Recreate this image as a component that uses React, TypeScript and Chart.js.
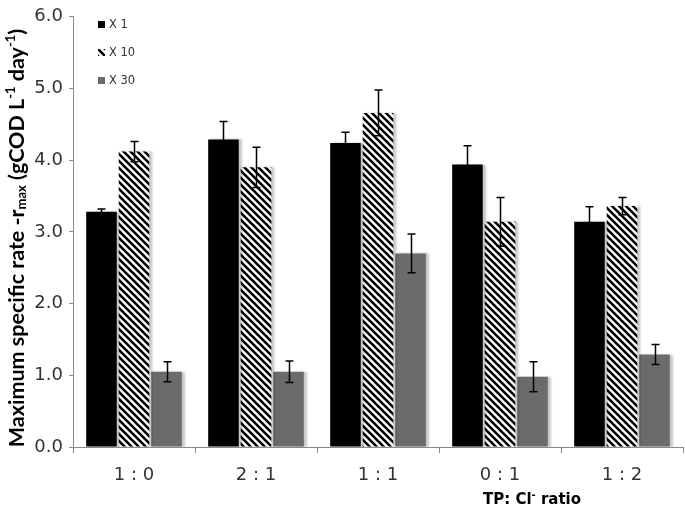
import React, { useEffect, useRef } from "react";
import { Chart, registerables } from "chart.js";

Chart.register(...registerables);

const categories = ["1 : 0", "2 : 1", "1 : 1", "0 : 1", "1 : 2"];
const seriesNames = ["X 1", "X 10", "X 30"];
const x1Values = [3.28, 4.29, 4.24, 3.94, 3.14];
const x1Errors = [0.04, 0.25, 0.15, 0.26, 0.21];
const x10Values = [4.12, 3.9, 4.66, 3.14, 3.36];
const x10Errors = [0.14, 0.28, 0.32, 0.34, 0.12];
const x30Values = [1.05, 1.05, 2.7, 0.98, 1.29];
const x30Errors = [0.14, 0.15, 0.27, 0.21, 0.14];
const yTicks = [0, 1, 2, 3, 4, 5, 6];

const TITLE_FONT = "Lato, 'Open Sans', sans-serif";
const WIDE_FONT = "'DejaVu Sans', 'Open Sans', sans-serif";

function makeHatch(): CanvasPattern | string {
  const c = document.createElement("canvas");
  const s = 7;
  c.width = s;
  c.height = s;
  const g = c.getContext("2d");
  if (!g) return "#fff";
  g.fillStyle = "#ffffff";
  g.fillRect(0, 0, s, s);
  g.strokeStyle = "#000000";
  g.lineWidth = 2.6;
  g.beginPath();
  for (let k = -1; k <= 1; k++) {
    g.moveTo(-1 + k * s, -1);
    g.lineTo(s + 1 + k * s, s + 1);
  }
  g.stroke();
  const p = g.createPattern(c, "repeat");
  return p || "#fff";
}

export default function App() {
  const ref = useRef<HTMLCanvasElement | null>(null);

  useEffect(() => {
    if (!ref.current) return;
    const hatch = makeHatch();
    const errors = [x1Errors, x10Errors, x30Errors];

    const shadowPlugin = {
      id: "shadow",
      beforeDatasetsDraw(chart: any) {
        const ctx = chart.ctx;
        ctx.save();
        ctx.shadowColor = "rgba(0,0,0,0.22)";
        ctx.shadowOffsetX = 3;
        ctx.shadowOffsetY = 0;
        ctx.shadowBlur = 2;
      },
      afterDatasetsDraw(chart: any) {
        chart.ctx.restore();
      },
    };

    const extras = {
      id: "extras",
      afterDraw(chart: any) {
        const ctx = chart.ctx;
        const y = chart.scales.y;
        // error bars
        ctx.save();
        ctx.strokeStyle = "#000";
        ctx.lineWidth = 1.5;
        chart.data.datasets.forEach((ds: any, di: number) => {
          const meta = chart.getDatasetMeta(di);
          meta.data.forEach((bar: any, i: number) => {
            const v = ds.data[i];
            const e = errors[di][i];
            const yt = y.getPixelForValue(v + e);
            const yb = y.getPixelForValue(v - e);
            const x = Math.round(bar.x) + 0.5;
            ctx.beginPath();
            ctx.moveTo(x, yt);
            ctx.lineTo(x, yb);
            ctx.moveTo(x - 4, yt);
            ctx.lineTo(x + 4, yt);
            ctx.moveTo(x - 4, yb);
            ctx.lineTo(x + 4, yb);
            ctx.stroke();
          });
        });
        ctx.restore();

        // legend
        ctx.save();
        const fills = ["#000", hatch, "#6b6b6b"];
        const ly = [25, 53, 81];
        seriesNames.forEach((n, i) => {
          ctx.fillStyle = fills[i];
          ctx.fillRect(98, ly[i] - 4, 7, 7);
          ctx.fillStyle = "#333";
          ctx.font = `11.5px ${WIDE_FONT}`;
          ctx.textBaseline = "middle";
          ctx.textAlign = "left";
          ctx.fillText(n, 109, ly[i]);
        });
        ctx.restore();

        // y title with sub/superscripts
        const parts: [string, string][] = [
          ["Maximum specific rate -r", "n"],
          ["max", "sub"],
          [" (gCOD L", "n"],
          ["-1", "sup"],
          [" day", "n"],
          ["-1", "sup"],
          [")", "n"],
        ];
        const big = 21.5;
        const small = 13;
        ctx.save();
        let total = 0;
        parts.forEach(([t, k]) => {
          ctx.font = `bold ${k === "n" ? big : small}px ${TITLE_FONT}`;
          total += ctx.measureText(t).width;
        });
        ctx.translate(17, 238);
        ctx.rotate(-Math.PI / 2);
        ctx.fillStyle = "#000";
        ctx.textBaseline = "middle";
        ctx.textAlign = "left";
        let xx = -total / 2;
        parts.forEach(([t, k]) => {
          ctx.font = `bold ${k === "n" ? big : small}px ${TITLE_FONT}`;
          const dy = k === "sub" ? 5 : k === "sup" ? -6 : 0;
          ctx.fillText(t, xx, dy);
          xx += ctx.measureText(t).width;
        });
        ctx.restore();

        // x title
        ctx.save();
        const xp: [string, string][] = [
          ["TP: Cl", "n"],
          ["-", "sup"],
          [" ratio", "n"],
        ];
        let tw = 0;
        xp.forEach(([t, k]) => {
          ctx.font = `bold ${k === "n" ? 15 : 10}px ${WIDE_FONT}`;
          tw += ctx.measureText(t).width;
        });
        let x0 = 532 - tw / 2;
        ctx.fillStyle = "#000";
        ctx.textBaseline = "middle";
        ctx.textAlign = "left";
        xp.forEach(([t, k]) => {
          ctx.font = `bold ${k === "n" ? 15 : 10}px ${WIDE_FONT}`;
          ctx.fillText(t, x0, k === "sup" ? 495 : 500);
          x0 += ctx.measureText(t).width;
        });
        ctx.restore();
      },
    };

    const chart = new Chart(ref.current, {
      type: "bar",
      data: {
        labels: categories,
        datasets: [
          { label: seriesNames[0], data: x1Values, backgroundColor: "#000000" },
          { label: seriesNames[1], data: x10Values, backgroundColor: hatch as any },
          { label: seriesNames[2], data: x30Values, backgroundColor: "#6b6b6b" },
        ],
      },
      options: {
        responsive: false,
        animation: false,
        events: [],
        layout: { padding: { top: 12, right: 2, left: 0, bottom: 0 } },
        datasets: { bar: { categoryPercentage: 0.8, barPercentage: 0.94 } },
        plugins: { legend: { display: false }, tooltip: { enabled: false }, title: { display: false } },
        scales: {
          x: {
            afterFit: (s: any) => {
              s.height = 63;
            },
            grid: {
              offset: true,
              drawOnChartArea: false,
              drawTicks: true,
              tickLength: 6,
              color: "#8a8a8a",
            },
            border: { color: "#8a8a8a", width: 1 },
            ticks: {
              color: "#333",
              font: { family: WIDE_FONT, size: 18 },
              padding: 12,
            },
          },
          y: {
            min: 0,
            max: 6,
            afterFit: (s: any) => {
              s.width = 73;
            },
            afterBuildTicks: (s: any) => {
              s.ticks = yTicks.map((v) => ({ value: v }));
            },
            grid: {
              drawOnChartArea: false,
              drawTicks: true,
              tickLength: 4,
              color: "#8a8a8a",
            },
            border: { color: "#8a8a8a", width: 1 },
            ticks: {
              color: "#333",
              font: { family: WIDE_FONT, size: 18 },
              padding: 6,
              callback: (v: any) => Number(v).toFixed(1),
            },
          },
        },
      },
      plugins: [shadowPlugin, extras],
    });
    return () => chart.destroy();
  }, []);

  return (
    <div style={{ position: "absolute", left: 0, top: 0, width: 685, height: 510, background: "#fff" }}>
      <canvas ref={ref} width={685} height={510} style={{ display: "block" }} />
    </div>
  );
}
